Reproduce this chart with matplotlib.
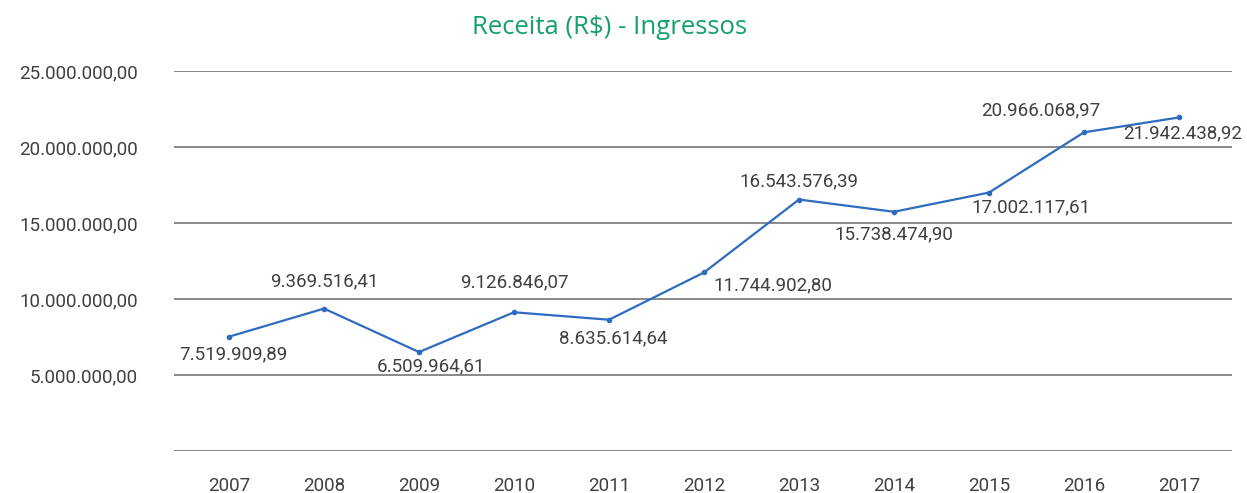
import matplotlib
matplotlib.use("Agg")
import matplotlib.pyplot as plt
from matplotlib.ticker import FixedLocator

years = ["2007", "2008", "2009", "2010", "2011", "2012", "2013", "2014", "2015", "2016", "2017"]
receita = [7519909.89, 9369516.41, 6509964.61, 9126846.07, 8635614.64, 11744902.80,
           16543576.39, 15738474.90, 17002117.61, 20966068.97, 21942438.92]
value_labels = ["7.519.909,89", "9.369.516,41", "6.509.964,61", "9.126.846,07", "8.635.614,64",
                "11.744.902,80", "16.543.576,39", "15.738.474,90", "17.002.117,61",
                "20.966.068,97", "21.942.438,92"]
y_ticks = [0, 5000000, 10000000, 15000000, 20000000, 25000000]
y_tick_labels = ["", "5.000.000,00", "10.000.000,00", "15.000.000,00", "20.000.000,00", "25.000.000,00"]

FONT = ["Roboto", "DejaVu Sans"]
label_offsets = [(4, -18), (0, 27), (12, -14), (0, 30), (4, -19), (69, -13),
                 (0, 18), (0, -23), (42, -15), (-43, 22), (4, -16)]

fig = plt.figure(figsize=(12.47, 4.93), dpi=100)
ax = fig.add_axes([174 / 1247, 1 - 451 / 493, (1232 - 174) / 1247, (451 - 71) / 493])

x = list(range(len(years)))
ax.plot(x, receita, color="#2e6cbf", lw=1.6, marker="o", markersize=3, zorder=3)

for xi, yi, lab, (dx, dy) in zip(x, receita, value_labels, label_offsets):
    ax.annotate(lab, (xi, yi), xytext=(dx, dy), textcoords="offset pixels",
                ha="center", va="center", fontsize=13.5, color="#404040", family=FONT)

ax.set_xlim(-(229 - 174) / 95, 10 + (1232 - 1179) / 95)
ax.set_ylim(0, 25000000)
ax.yaxis.set_major_locator(FixedLocator(y_ticks))
ax.set_yticklabels(y_tick_labels, family=FONT, fontsize=13.5, color="#404040")
ax.set_xticks(x)
ax.set_xticklabels(years, family=FONT, fontsize=13.5, color="#404040")
ax.tick_params(axis="both", length=0)
ax.tick_params(axis="y", pad=26)
ax.tick_params(axis="x", pad=18.5)
ax.grid(axis="y", color="#808080", lw=1.3)
ax.set_axisbelow(True)
for s in ax.spines.values():
    s.set_visible(False)

fig.text(610 / 1247, 1 - 28 / 493, "Receita (R$) - Ingressos", ha="center", va="center",
         fontsize=18.5, color="#13a06a", family=["Open Sans", "DejaVu Sans"])

fig.savefig("out.png", dpi=100)
